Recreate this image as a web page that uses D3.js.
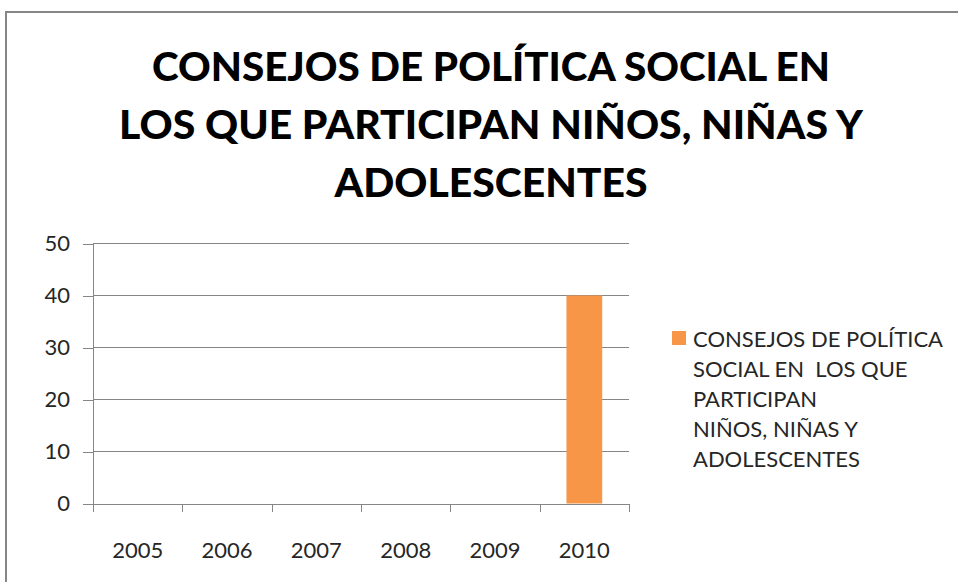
<!DOCTYPE html>
<html><head><meta charset="utf-8">
<script src="https://cdn.jsdelivr.net/npm/d3@7"></script>
<style>html,body{margin:0;padding:0;background:#fff;overflow:hidden}</style>
</head><body>
<svg id="c" width="958" height="582"></svg>
<script>
const categories = ["2005","2006","2007","2008","2009","2010"];
const values = [0,0,0,0,0,40];
const yTicks = [0,10,20,30,40,50];
const titleLines = ["CONSEJOS DE POLÍTICA SOCIAL EN","LOS QUE PARTICIPAN NIÑOS, NIÑAS Y","ADOLESCENTES"];
const legendLines = ["CONSEJOS DE POLÍTICA","SOCIAL EN  LOS QUE","PARTICIPAN","NIÑOS, NIÑAS Y","ADOLESCENTES"];

const svg = d3.select("#c");
const font = "Lato, 'Open Sans', sans-serif";
const gray = "#868686";
const textCol = "#262626";

// outer border
svg.append("path").attr("d","M6,582V12H958").attr("fill","none").attr("stroke",gray).attr("stroke-width",2);

// title
const titleBase = [81,139,197];
const titleLen = [678,744,313];
svg.append("g").selectAll("text").data(titleLines).join("text")
  .attr("x",491).attr("y",(d,i)=>titleBase[i])
  .attr("text-anchor","middle")
  .attr("font-family",font).attr("font-weight",900).attr("font-size",39)
  .attr("textLength",(d,i)=>titleLen[i]).attr("lengthAdjust","spacingAndGlyphs")
  .attr("fill","#000").text(d=>d);

const x0 = 93, x1 = 629, yTop = 243.5, yBot = 503.5;
const x = d3.scaleBand().domain(categories).range([x0,x1]).paddingInner(0.6).paddingOuter(0.3);
const y = d3.scaleLinear().domain([0,50]).range([yBot,yTop]);

// gridlines
svg.append("g").selectAll("line").data(yTicks.filter(t=>t>0)).join("line")
  .attr("x1",x0).attr("x2",x1).attr("y1",d=>y(d)).attr("y2",d=>y(d))
  .attr("stroke",gray).attr("stroke-width",1).attr("shape-rendering","crispEdges");

// bars
svg.append("g").selectAll("rect").data(values).join("rect")
  .attr("x",(d,i)=>x(categories[i])).attr("width",x.bandwidth())
  .attr("y",d=>y(d)).attr("height",d=>yBot-y(d))
  .attr("fill","#F79646");

// y axis
const yAxis = d3.axisLeft(y).tickValues(yTicks).tickSize(10).tickPadding(13).tickSizeOuter(0);
const gy = svg.append("g").attr("transform",`translate(${x0},0)`).call(yAxis);
gy.select(".domain").remove();
gy.selectAll("line").attr("stroke",gray).attr("shape-rendering","crispEdges");
gy.append("line").attr("x1",0).attr("x2",0).attr("y1",yTop).attr("y2",yBot+7)
  .attr("stroke",gray).attr("shape-rendering","crispEdges");
gy.selectAll("text").attr("font-family",font).attr("font-size",22).attr("fill",textCol);

// x axis with ticks at band boundaries
const xAxisG = svg.append("g").attr("transform",`translate(0,${yBot})`);
const xb = d3.scaleLinear().domain([0,categories.length]).range([x0,x1]);
xAxisG.call(d3.axisBottom(xb).tickValues(d3.range(categories.length+1)).tickSize(8).tickSizeOuter(0).tickFormat(""));
xAxisG.selectAll("text").remove();
xAxisG.selectAll("line,path").attr("stroke",gray).attr("shape-rendering","crispEdges");
svg.append("g").selectAll("text").data(categories).join("text")
  .attr("x",d=>x(d)+x.bandwidth()/2).attr("y",yBot+54)
  .attr("text-anchor","middle").attr("font-family",font).attr("font-size",22).attr("fill",textCol).text(d=>d);

// legend
const lg = svg.append("g");
lg.append("rect").attr("x",672).attr("y",331).attr("width",14).attr("height",14).attr("fill","#F79646");
lg.selectAll("text").data(legendLines).join("text")
  .attr("x",693).attr("y",(d,i)=>347+i*30)
  .attr("font-family",font).attr("font-size",22).attr("fill",textCol)
  .style("white-space","pre").text(d=>d);
</script>
</body></html>
